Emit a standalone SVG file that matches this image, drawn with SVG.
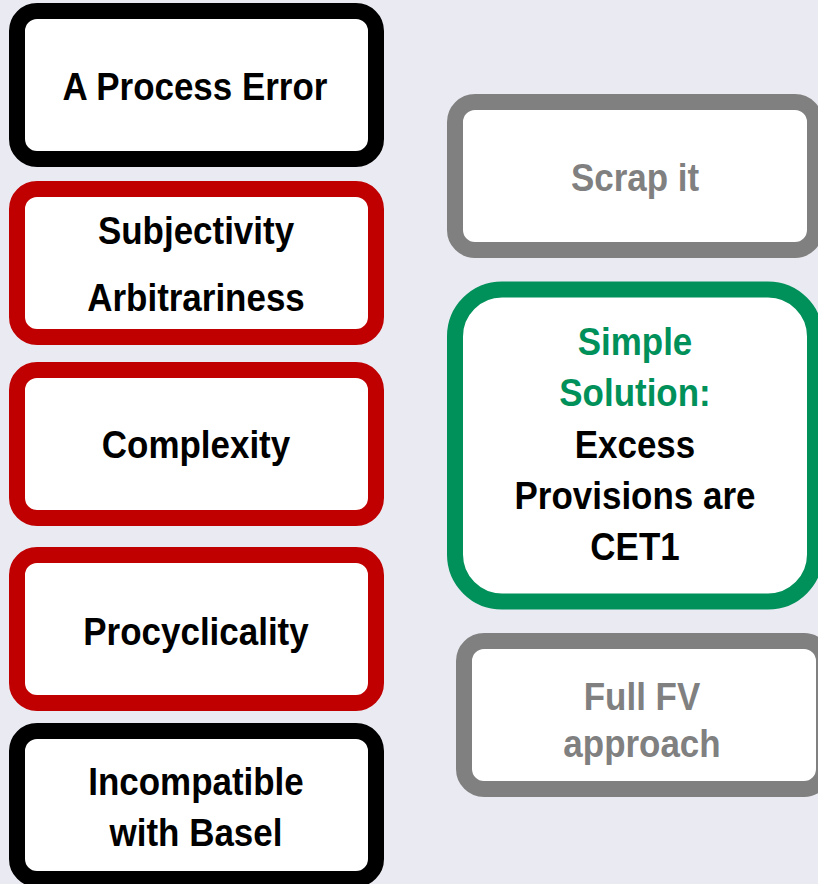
<svg xmlns="http://www.w3.org/2000/svg" width="818" height="884" viewBox="0 0 818 884">
  <style>
    .box { fill: #ffffff; stroke-width: 16; }
    .black { stroke: #000000; }
    .red { stroke: #C00000; }
    .grey { stroke: #808080; }
    .green { stroke: #00905A; }
    text { font-family: "Liberation Sans", Arial, sans-serif; font-weight: bold; font-size: 38px; text-anchor: middle; }
    .t-black { fill: #000000; }
    .t-grey { fill: #808080; }
    .t-green { fill: #00905A; }
  </style>
  <rect x="0" y="0" width="818" height="884" fill="#EAEAF2"/>

  <!-- left column: problems -->
  <g id="process-error">
    <rect class="box black" x="17" y="11" width="359" height="148" rx="20"/>
    <g transform="translate(195,0) scale(0.92,1)"><text class="t-black" x="0" y="100">A Process Error</text></g>
  </g>
  <g id="subjectivity">
    <rect class="box red" x="17" y="189" width="359" height="148" rx="20"/>
    <g transform="translate(196,0) scale(0.92,1)">
      <text class="t-black" x="0" y="244">Subjectivity</text>
      <text class="t-black" x="0" y="311.5">Arbitrariness</text>
    </g>
  </g>
  <g id="complexity">
    <rect class="box red" x="17" y="370" width="359" height="148" rx="20"/>
    <g transform="translate(196,0) scale(0.92,1)"><text class="t-black" x="0" y="458">Complexity</text></g>
  </g>
  <g id="procyclicality">
    <rect class="box red" x="17" y="555" width="359" height="148" rx="20"/>
    <g transform="translate(196,0) scale(0.92,1)"><text class="t-black" x="0" y="645">Procyclicality</text></g>
  </g>
  <g id="incompatible">
    <rect class="box black" x="17" y="731" width="359" height="148" rx="20"/>
    <g transform="translate(196,0) scale(0.92,1)">
      <text class="t-black" x="0" y="795">Incompatible</text>
      <text class="t-black" x="0" y="846">with Basel</text>
    </g>
  </g>

  <!-- right column: options -->
  <g id="scrap-it">
    <rect class="box grey" x="455" y="102" width="360" height="148" rx="20"/>
    <g transform="translate(635,0) scale(0.92,1)"><text class="t-grey" x="0" y="191">Scrap it</text></g>
  </g>
  <g id="simple-solution">
    <rect class="box green" x="455" y="289.5" width="360" height="312" rx="47"/>
    <g transform="translate(635,0) scale(0.92,1)">
      <text class="t-green" x="0" y="355">Simple</text>
      <text class="t-green" x="0" y="406.5">Solution:</text>
      <text class="t-black" x="0" y="458">Excess</text>
      <text class="t-black" x="0" y="509">Provisions are</text>
      <text class="t-black" x="0" y="560">CET1</text>
    </g>
  </g>
  <g id="full-fv">
    <rect class="box grey" x="464" y="641" width="360" height="148" rx="20"/>
    <g transform="translate(642,0) scale(0.92,1)">
      <text class="t-grey" x="0" y="710.5">Full FV</text>
      <text class="t-grey" x="0" y="757">approach</text>
    </g>
  </g>

  <g id="connectors"/>
</svg>
